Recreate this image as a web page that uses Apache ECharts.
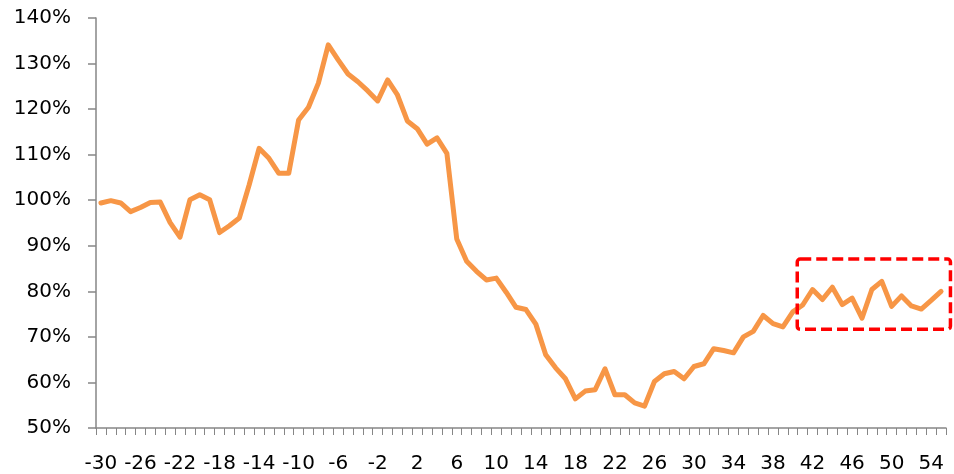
<!DOCTYPE html>
<html>
<head>
<meta charset="utf-8">
<script src="https://cdn.jsdelivr.net/npm/echarts@6/dist/echarts.min.js"></script>
<style>
html,body{margin:0;padding:0;background:#fff;}
#main{width:954px;height:474px;}
</style>
</head>
<body>
<div id="main"></div>
<script>
const categories = [-30,-29,-28,-27,-26,-25,-24,-23,-22,-21,-20,-19,-18,-17,-16,-15,-14,-13,-12,-11,
  -10,-9,-8,-7,-6,-5,-4,-3,-2,-1,0,1,2,3,4,5,6,7,8,9,
  10,11,12,13,14,15,16,17,18,19,20,21,22,23,24,25,26,27,28,29,
  30,31,32,33,34,35,36,37,38,39,40,41,42,43,44,45,46,47,48,49,
  50,51,52,53,54,55].map(String);

const values = [
  99.4, 99.9, 99.4, 97.5, 98.4, 99.5, 99.6, 95.1, 91.9, 100.1,
  101.2, 100.1, 92.9, 94.4, 96.1, 103.4, 111.4, 109.2, 105.9, 105.9,
  117.6, 120.4, 125.7, 134.1, 130.8, 127.7, 126.0, 124.0, 121.8, 126.4,
  123.1, 117.4, 115.7, 112.3, 113.7, 110.3, 91.5, 86.6, 84.4, 82.5,
  82.9, 79.8, 76.5, 76.0, 72.8, 66.1, 63.2, 60.8, 56.4, 58.1,
  58.4, 63.0, 57.3, 57.3, 55.5, 54.8, 60.2, 61.9, 62.4, 60.8,
  63.5, 64.1, 67.4, 67.0, 66.5, 70.0, 71.2, 74.7, 72.9, 72.2,
  75.5, 77.0, 80.4, 78.2, 80.9, 77.1, 78.5, 74.1, 80.4, 82.2,
  76.7, 79.0, 76.8, 76.1, 78.0, 80.0
];

const yTicks = [50, 60, 70, 80, 90, 100, 110, 120, 130, 140];

// highlight box in data units: category index range and value range
const boxIndex = [70.45, 85.95];
const boxValue = [71.7, 87.1];

const axisColor = '#868686';
const font = 'DejaVu Sans';

const chart = echarts.init(document.getElementById('main'));
chart.setOption({
  animation: false,
  grid: { left: 96, right: 8, top: 18, bottom: 46, containLabel: false },
  xAxis: {
    type: 'category',
    data: categories,
    boundaryGap: true,
    axisLine: { lineStyle: { color: axisColor, width: 1.5 } },
    axisTick: { show: true, interval: 0, length: 7, lineStyle: { color: axisColor, width: 1 } },
    axisLabel: { interval: 3, margin: 26, color: '#000', fontFamily: font, fontSize: 20 },
    splitLine: { show: false }
  },
  yAxis: {
    type: 'value',
    min: yTicks[0],
    max: yTicks[yTicks.length - 1],
    interval: 10,
    axisLine: { show: true, lineStyle: { color: axisColor, width: 1.5 } },
    axisTick: { show: true, length: 8, lineStyle: { color: axisColor, width: 1.5 } },
    axisLabel: { formatter: '{value}%', margin: 25, color: '#000', fontFamily: font, fontSize: 20 },
    splitLine: { show: false }
  },
  series: [{
    type: 'line',
    data: values,
    symbol: 'none',
    smooth: false,
    lineStyle: { color: '#F79646', width: 5, join: 'round', cap: 'round' }
  }]
});

function px(idx, val) {
  const i0 = Math.floor(idx);
  const a = chart.convertToPixel({ gridIndex: 0 }, [categories[i0], val]);
  const b = chart.convertToPixel({ gridIndex: 0 }, [categories[i0 - 1], val]);
  const step = a[0] - b[0];
  return [a[0] + (idx - i0) * step, a[1]];
}
const p1 = px(boxIndex[0], boxValue[1]);
const p2 = px(boxIndex[1], boxValue[0]);
chart.setOption({
  graphic: [{
    type: 'rect',
    shape: { x: p1[0], y: p1[1], width: p2[0] - p1[0], height: p2[1] - p1[1], r: 3 },
    style: { fill: 'none', stroke: '#FF0000', lineWidth: 3.5, lineDash: [11, 5] },
    z: 100
  }]
});
</script>
</body>
</html>
